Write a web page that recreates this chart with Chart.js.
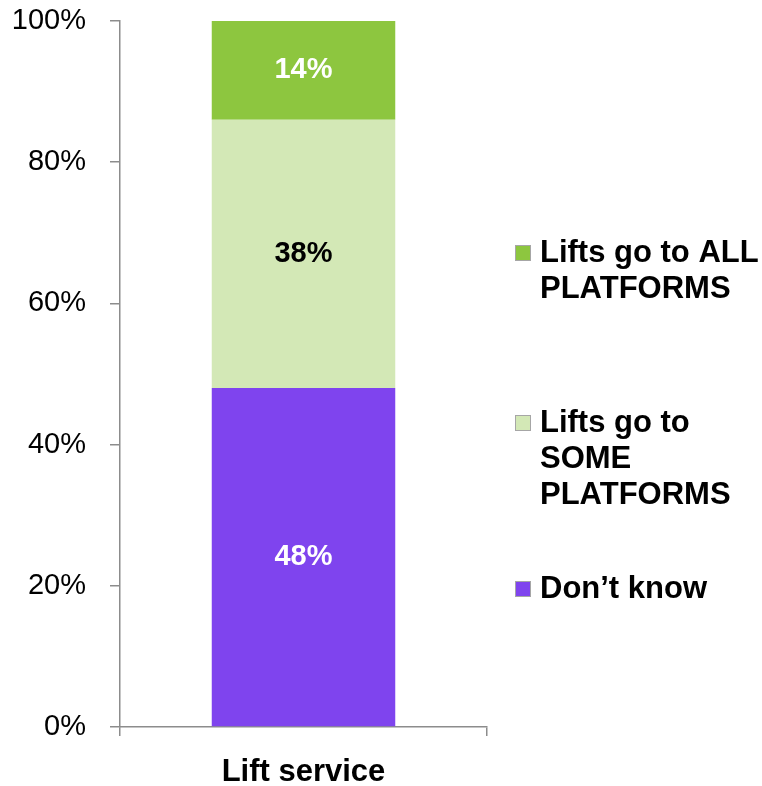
<!DOCTYPE html>
<html>
<head>
<meta charset="utf-8">
<script src="https://cdn.jsdelivr.net/npm/chart.js@4.4.1/dist/chart.umd.min.js"></script>
<style>
  html, body { margin: 0; padding: 0; background: #fff; }
  #wrap { width: 762px; height: 786px; }
</style>
</head>
<body>
<div id="wrap"><canvas id="liftChart"></canvas></div>
<script>
// Categories and series (percent of respondents)
const categories = ['Lift service'];
const dontKnow = [48];
const somePlatforms = [38];
const allPlatforms = [14];
const yTicks = [0, 20, 40, 60, 80, 100];

// Legend text, one entry per line
const seriesNames = {
  all: ['Lifts go to ALL', 'PLATFORMS'],
  some: ['Lifts go to', 'SOME', 'PLATFORMS'],
  dontKnow: ['Don\u2019t know']
};

const colors = {
  all: '#8DC63F',
  some: '#D3E8B6',
  dontKnow: '#7F44EE'
};

const labelColors = ['#ffffff', '#000000', '#ffffff']; // dontKnow, some, all

// Draws the % value in the middle of each stacked segment
const segmentLabels = {
  id: 'segmentLabels',
  afterDatasetsDraw(chart) {
    const ctx = chart.ctx;
    ctx.save();
    ctx.font = 'bold 29px "Liberation Sans", Arial, sans-serif';
    ctx.textAlign = 'center';
    ctx.textBaseline = 'middle';
    chart.data.datasets.forEach((ds, i) => {
      chart.getDatasetMeta(i).data.forEach((bar, j) => {
        const mid = (bar.y + bar.base) / 2;
        ctx.fillStyle = labelColors[i];
        ctx.fillText(ds.data[j] + '%', bar.x, mid);
      });
    });
    ctx.restore();
  }
};

// Legend on the right, spread out like the original
const sideLegend = {
  id: 'sideLegend',
  afterDraw(chart) {
    const ctx = chart.ctx;
    const items = [
      { text: seriesNames.all, color: colors.all, y: 253 },
      { text: seriesNames.some, color: colors.some, y: 423 },
      { text: seriesNames.dontKnow, color: colors.dontKnow, y: 589 }
    ];
    ctx.save();
    ctx.font = 'bold 31px "Liberation Sans", Arial, sans-serif';
    ctx.textBaseline = 'middle';
    ctx.textAlign = 'left';
    items.forEach(item => {
      ctx.fillStyle = item.color;
      ctx.fillRect(515, item.y - 8, 16, 16);
      ctx.strokeStyle = '#a6a6a6';
      ctx.lineWidth = 1;
      ctx.strokeRect(515.5, item.y - 7.5, 15, 15);
      ctx.fillStyle = '#000';
      item.text.forEach((line, k) => {
        ctx.fillText(line, 540, item.y + k * 36);
      });
    });
    ctx.restore();
  }
};

function createLiftChart() {
  const ctx = document.getElementById('liftChart').getContext('2d');
  const myChart = new Chart(ctx, {
    type: 'bar',
    data: {
      labels: categories,
      datasets: [
        { label: seriesNames.dontKnow.join(' '), data: dontKnow, backgroundColor: colors.dontKnow },
        { label: seriesNames.some.join(' '), data: somePlatforms, backgroundColor: colors.some },
        { label: seriesNames.all.join(' '), data: allPlatforms, backgroundColor: colors.all }
      ]
    },
    options: {
      responsive: true,
      maintainAspectRatio: false,
      animation: false,
      categoryPercentage: 1,
      barPercentage: 0.5,
      layout: {
        padding: { left: 12, right: 275, top: 21, bottom: 0 }
      },
      plugins: {
        legend: { display: false },
        tooltip: { enabled: false }
      },
      scales: {
        x: {
          stacked: true,
          afterFit(scale) {
            scale.height = 59;
          },
          border: { color: '#8c8c8c', width: 1.5 },
          grid: {
            display: true,
            offset: true,
            drawOnChartArea: false,
            drawTicks: true,
            tickLength: 9,
            color: '#8c8c8c',
            lineWidth: 1.5
          },
          ticks: {
            color: '#000',
            padding: 21,
            font: { family: '"Liberation Sans", Arial, sans-serif', size: 31, weight: 'bold', lineHeight: 1 }
          }
        },
        y: {
          stacked: true,
          min: 0,
          max: 100,
          afterBuildTicks(scale) {
            scale.ticks = yTicks.map(v => ({ value: v }));
          },
          afterFit(scale) {
            scale.width = 108;
            scale.paddingTop = 0;
            scale.paddingBottom = 0;
          },
          border: { color: '#8c8c8c', width: 1.5 },
          grid: {
            display: true,
            drawOnChartArea: false,
            drawTicks: true,
            tickLength: 10,
            color: '#8c8c8c',
            lineWidth: 1.5
          },
          ticks: {
            color: '#000',
            padding: 24,
            callback: v => v + '%',
            font: { family: '"Liberation Sans", Arial, sans-serif', size: 29, lineHeight: 1 }
          }
        }
      }
    },
    plugins: [segmentLabels, sideLegend]
  });
}

document.addEventListener('DOMContentLoaded', function() {
  createLiftChart();
});
</script>
</body>
</html>
